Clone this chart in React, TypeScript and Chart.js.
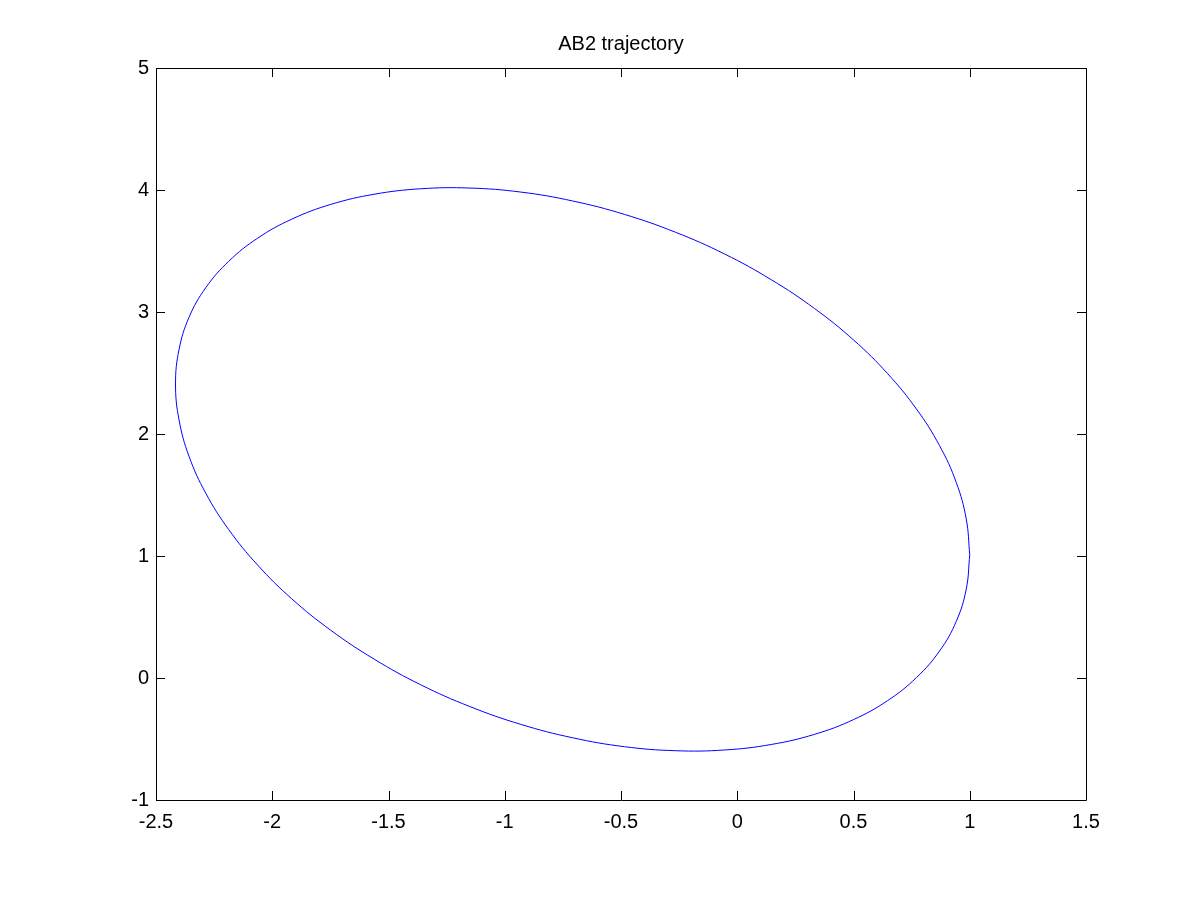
import React, { useEffect, useRef } from "react";
import { Chart, registerables } from "chart.js";

Chart.register(...registerables);

const titleText = "AB2 trajectory";

// Trajectory points (x, y in data units)
const trajX = [
  1.0, 0.985, 0.942, 0.87, 0.771, 0.647, 0.5, 0.332, 0.146, -0.054,
  -0.266, -0.485, -0.708, -0.931, -1.15, -1.362, -1.562, -1.748, -1.916, -2.063,
  -2.187, -2.286, -2.358, -2.401, -2.416, -2.401, -2.358, -2.286, -2.187, -2.063,
  -1.916, -1.748, -1.562, -1.362, -1.15, -0.931, -0.708, -0.485, -0.266, -0.054,
  0.146, 0.332, 0.5, 0.647, 0.771, 0.87, 0.942, 0.985, 1.0,
];

const trajY = [
  1.01, 1.303, 1.603, 1.905, 2.204, 2.494, 2.771, 3.029, 3.265, 3.475,
  3.654, 3.8, 3.91, 3.983, 4.016, 4.01, 3.965, 3.882, 3.761, 3.605,
  3.416, 3.199, 2.956, 2.691, 2.41, 2.117, 1.817, 1.515, 1.216, 0.926,
  0.649, 0.391, 0.155, -0.055, -0.234, -0.38, -0.49, -0.563, -0.596, -0.59,
  -0.545, -0.462, -0.341, -0.185, 0.004, 0.221, 0.464, 0.729, 1.01,
];

const xTicks = [-2.5, -2, -1.5, -1, -0.5, 0, 0.5, 1, 1.5];
const yTicks = [-1, 0, 1, 2, 3, 4, 5];

const FONT = "'Liberation Sans', Arial, sans-serif";

const boxPlugin = {
  id: "matlabBox",
  afterDraw(chart: any) {
    const { ctx, chartArea } = chart;
    const { left, right, top, bottom } = chartArea;
    const xs = chart.scales.x;
    const ys = chart.scales.y;
    const tl = 9;
    ctx.save();
    ctx.strokeStyle = "#000";
    ctx.lineWidth = 1;
    ctx.beginPath();
    ctx.rect(Math.round(left) + 0.5, Math.round(top) + 0.5, Math.round(right - left), Math.round(bottom - top));
    for (const v of xTicks) {
      const px = Math.round(xs.getPixelForValue(v)) + 0.5;
      ctx.moveTo(px, bottom);
      ctx.lineTo(px, bottom - tl);
      ctx.moveTo(px, top);
      ctx.lineTo(px, top + tl);
    }
    for (const v of yTicks) {
      const py = Math.round(ys.getPixelForValue(v)) + 0.5;
      ctx.moveTo(left, py);
      ctx.lineTo(left + tl, py);
      ctx.moveTo(right, py);
      ctx.lineTo(right - tl, py);
    }
    ctx.stroke();
    ctx.fillStyle = "#000";
    ctx.font = `20px ${FONT}`;
    ctx.textAlign = "center";
    ctx.textBaseline = "alphabetic";
    ctx.fillText(titleText, (left + right) / 2, 50);
    ctx.restore();
  },
};

export default function App() {
  const ref = useRef<HTMLCanvasElement | null>(null);

  useEffect(() => {
    document.body.style.margin = "0";
    const canvas = ref.current;
    if (!canvas) return;
    const points = trajX.map((x, i) => ({ x, y: trajY[i] }));
    const chart = new Chart(canvas, {
      type: "scatter",
      data: {
        datasets: [
          {
            data: points,
            showLine: true,
            borderColor: "#0000ff",
            borderWidth: 1,
            pointRadius: 0,
            fill: false,
            tension: 0.4,
          },
        ],
      },
      options: {
        responsive: false,
        animation: false,
        devicePixelRatio: 1,
        layout: { padding: { left: 0, top: 68, right: 114, bottom: 0 } },
        plugins: {
          legend: { display: false },
          tooltip: { enabled: false },
          title: { display: false },
        },
        scales: {
          x: {
            type: "linear",
            min: -2.5,
            max: 1.5,
            afterBuildTicks: (s: any) => {
              s.ticks = xTicks.map((v) => ({ value: v }));
            },
            afterFit: (s: any) => {
              s.height = 100;
            },
            grid: { display: false, drawTicks: false },
            border: { display: false },
            ticks: {
              color: "#000",
              font: { family: FONT, size: 20 },
              padding: 10,
              maxRotation: 0,
              autoSkip: false,
              callback: (v: any) => String(v),
            },
          },
          y: {
            type: "linear",
            min: -1,
            max: 5,
            afterBuildTicks: (s: any) => {
              s.ticks = yTicks.map((v) => ({ value: v }));
            },
            afterFit: (s: any) => {
              s.width = 156;
            },
            grid: { display: false, drawTicks: false },
            border: { display: false },
            ticks: {
              color: "#000",
              font: { family: FONT, size: 20 },
              padding: 7,
              autoSkip: false,
              callback: (v: any) => String(v),
            },
          },
        },
      },
      plugins: [boxPlugin],
    });
    return () => chart.destroy();
  }, []);

  return (
    <div style={{ position: "absolute", left: 0, top: 0, width: 1200, height: 900, background: "#fff" }}>
      <canvas ref={ref} width={1200} height={900} style={{ width: 1200, height: 900 }} />
    </div>
  );
}
